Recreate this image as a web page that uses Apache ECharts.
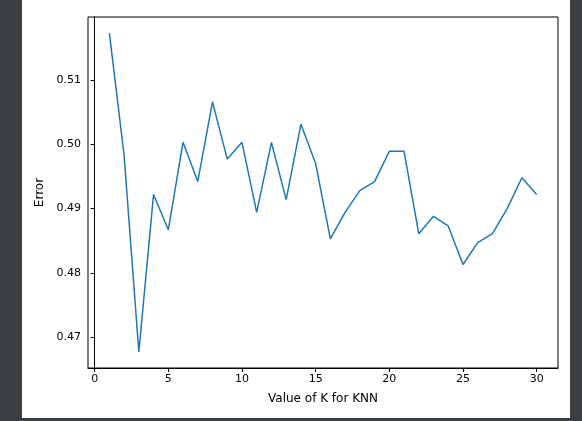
<!DOCTYPE html>
<html>
<head>
<meta charset="utf-8">
<script src="https://cdn.jsdelivr.net/npm/echarts@6/dist/echarts.min.js"></script>
<style>
  body { margin: 0; background: #3c3f41; }
  #frame { position: absolute; left: 22px; top: 0; width: 548px; height: 418px; background: #fff; }
  #chart { width: 548px; height: 418px; }
</style>
</head>
<body>
<div id="frame"><div id="chart"></div></div>
<script>
// K values and error rates
var kValues = [1,2,3,4,5,6,7,8,9,10,11,12,13,14,15,16,17,18,19,20,21,22,23,24,25,26,27,28,29,30];
var errors = [0.5173,0.4983,0.4677,0.4922,0.4867,0.5003,0.4942,0.5066,0.4977,0.5003,
              0.4894,0.5003,0.4914,0.5031,0.4970,0.4853,0.4894,0.4928,0.4942,0.4989,
              0.4989,0.4861,0.4888,0.4873,0.4813,0.4847,0.4861,0.4900,0.4948,0.4922];
var xTicks = [0,5,10,15,20,25,30];
var yTicks = [0.47,0.48,0.49,0.50,0.51];

var chart = echarts.init(document.getElementById('chart'));
var font = 'DejaVu Sans';
chart.setOption({
  animation: false,
  grid: { left: 66, top: 17, width: 470, height: 351 },
  xAxis: {
    type: 'value', min: -0.45, max: 31.45,
    name: 'Value of K for KNN', nameLocation: 'middle', nameGap: 25,
    nameTextStyle: { color: '#000', fontSize: 12, fontFamily: font },
    axisLine: { lineStyle: { color: '#000' } },
    axisTick: { customValues: xTicks, length: 4, inside: false, lineStyle: { color: '#000' } },
    axisLabel: { customValues: xTicks, color: '#000', fontSize: 11, fontFamily: font, margin: 6 },
    splitLine: { show: false }
  },
  yAxis: {
    type: 'value', min: 0.4652, max: 0.5198,
    name: 'Error', nameLocation: 'middle', nameGap: 40,
    nameTextStyle: { color: '#000', fontSize: 12, fontFamily: font },
    axisLine: { show: true, lineStyle: { color: '#000' } },
    axisTick: { show: true, customValues: yTicks, length: 4, lineStyle: { color: '#000' } },
    axisLabel: { customValues: yTicks, color: '#000', fontSize: 11, fontFamily: font, margin: 7,
                 formatter: function (v) { return v.toFixed(2); } },
    splitLine: { show: false }
  },
  series: [{
    type: 'line',
    data: kValues.map(function (k, i) { return [k, errors[i]]; }),
    showSymbol: false,
    lineStyle: { color: '#1f77b4', width: 1.5 }
  }]
});
// top/right frame
chart.setOption({
  graphic: [{ type: 'rect', shape: { x: 66, y: 17, width: 470, height: 351 },
              style: { fill: 'none', stroke: '#000', lineWidth: 1 }, silent: true }]
});
</script>
</body>
</html>
